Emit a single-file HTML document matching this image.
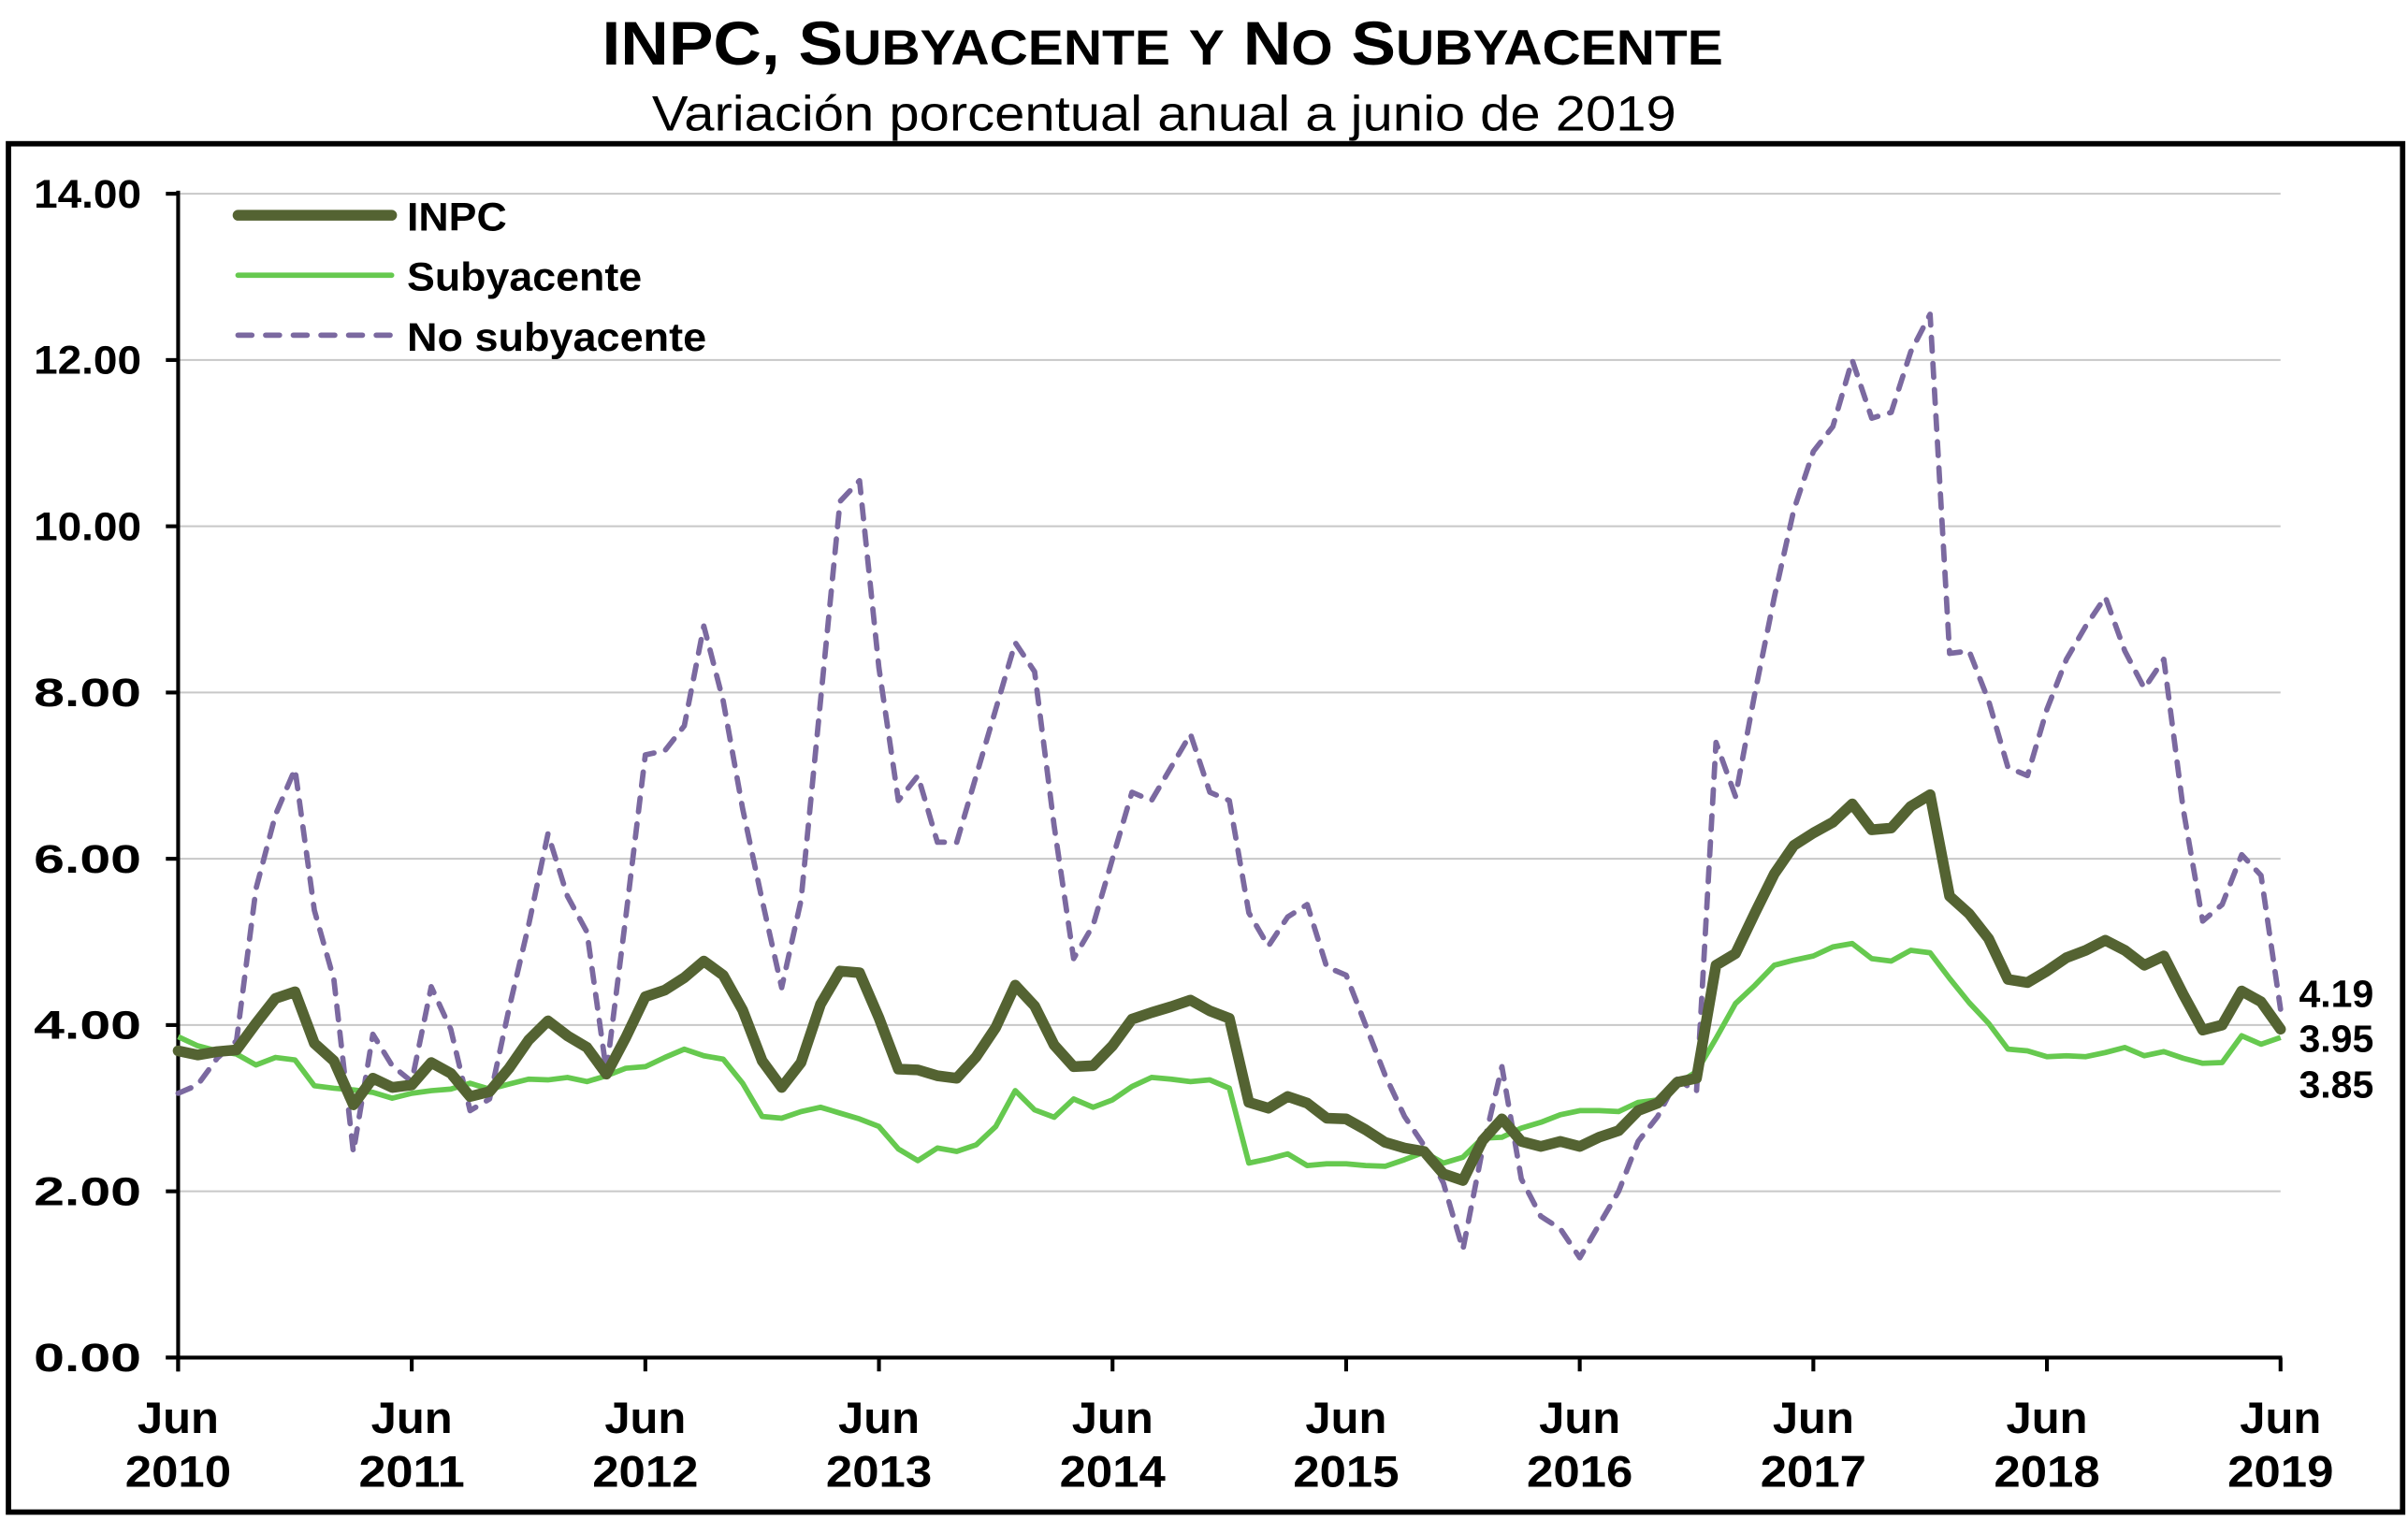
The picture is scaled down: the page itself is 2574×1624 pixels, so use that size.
<!DOCTYPE html>
<html><head><meta charset="utf-8"><style>
html,body{margin:0;padding:0;background:#fff;}
svg{display:block;}
text{font-family:"Liberation Sans",Arial,sans-serif;}
</style></head><body>
<svg id="c" width="2574" height="1624" viewBox="0 0 1568 988" preserveAspectRatio="none" xmlns="http://www.w3.org/2000/svg">
<text x="757" y="42" text-anchor="middle" font-size="40" font-weight="bold" textLength="730" lengthAdjust="spacingAndGlyphs">INPC, S<tspan font-size="32">UBYACENTE</tspan> <tspan font-size="32">Y</tspan> N<tspan font-size="32">O</tspan> S<tspan font-size="32">UBYACENTE</tspan></text>
<text x="758" y="85" text-anchor="middle" font-size="32" textLength="667" lengthAdjust="spacingAndGlyphs">Variación porcentual anual a junio de 2019</text>
<rect x="5.5" y="93.5" width="1559" height="890" fill="none" stroke="#000" stroke-width="3.5"/>
<g id="grid"></g>
<g id="series"></g>
<g font-weight="bold" font-size="26">
<text x="265" y="150" textLength="65" lengthAdjust="spacingAndGlyphs">INPC</text>
<text x="265" y="189" textLength="153" lengthAdjust="spacingAndGlyphs">Subyacente</text>
<text x="265" y="228" textLength="195" lengthAdjust="spacingAndGlyphs">No subyacente</text>
</g>
<g font-weight="bold" font-size="25">
<text x="1497" y="655">4.19</text>
<text x="1497" y="684">3.95</text>
<text x="1497" y="714">3.85</text>
</g>
<line x1="155" y1="140" x2="255" y2="140" stroke="#546332" stroke-width="7" stroke-linecap="round"/>
<line x1="155" y1="179" x2="255" y2="179" stroke="#66c94f" stroke-width="3.5" stroke-linecap="round"/>
<line x1="155" y1="218" x2="255" y2="218" stroke="#7b69a0" stroke-width="3.5" stroke-dasharray="9,9" stroke-linecap="round"/>
</svg>
<script>
var X0=116,DX=12.676,Y0=883,DY=54.07;
function px(m){return X0+DX*m;} function py(v){return Y0-DY*v;}
var NS="http://www.w3.org/2000/svg";
function el(p,t,a){var e=document.createElementNS(NS,t);for(var k in a)e.setAttribute(k,a[k]);p.appendChild(e);return e;}
var g=document.getElementById('grid'),svg=document.getElementById('c');
for(var v=0;v<=14;v+=2){
 if(v>0)el(g,'line',{x1:X0,x2:1485,y1:py(v),y2:py(v),stroke:'#c8c8c8','stroke-width':1.2});
 el(g,'line',{x1:X0-8,x2:X0,y1:py(v),y2:py(v),stroke:'#000','stroke-width':2.5});
 var t=el(svg,'text',{x:92,y:py(v)+9,'text-anchor':'end','font-size':26,'font-weight':'bold',textLength:70,lengthAdjust:'spacingAndGlyphs'});t.textContent=v.toFixed(2);
}
el(g,'line',{x1:X0,x2:X0,y1:py(14)-2,y2:Y0+9,stroke:'#000','stroke-width':2.5});
el(g,'line',{x1:X0-8,x2:1486,y1:Y0,y2:Y0,stroke:'#000','stroke-width':2.5});
for(var i=0;i<=9;i++){var x=px(12*i);
 el(g,'line',{x1:x,x2:x,y1:Y0,y2:Y0+9,stroke:'#000','stroke-width':2.5});
 var a=el(svg,'text',{x:x,y:932,'text-anchor':'middle','font-size':29,'font-weight':'bold',textLength:53,lengthAdjust:'spacingAndGlyphs'});a.textContent='Jun';
 var b=el(svg,'text',{x:x,y:967,'text-anchor':'middle','font-size':29,'font-weight':'bold',textLength:69,lengthAdjust:'spacingAndGlyphs'});b.textContent=String(2010+i);
}
var inpc=[3.69,3.64,3.68,3.70,4.02,4.32,4.40,
3.78,3.57,3.04,3.36,3.25,3.28,3.55,3.42,3.14,3.20,3.48,3.82,
4.05,3.87,3.73,3.41,3.85,4.34,4.42,4.57,4.77,4.60,4.18,3.57,
3.25,3.55,4.25,4.65,4.63,4.09,3.47,3.46,3.39,3.36,3.62,3.97,
4.48,4.23,3.76,3.50,3.51,3.75,4.07,4.15,4.22,4.30,4.17,4.08,
3.07,3.00,3.14,3.06,2.88,2.87,2.74,2.59,2.52,2.48,2.21,2.13,
2.61,2.87,2.60,2.54,2.60,2.54,2.65,2.73,2.97,3.06,3.31,3.36,
4.72,4.86,5.35,5.82,6.16,6.31,6.44,6.66,6.35,6.37,6.63,6.77,
5.55,5.34,5.04,4.55,4.51,4.65,4.81,4.90,5.02,4.90,4.72,4.83,
4.37,3.94,4.00,4.41,4.28,3.95];
var sub=[3.86,3.75,3.69,3.65,3.52,3.61,3.58,
3.27,3.24,3.22,3.19,3.12,3.18,3.21,3.23,3.30,3.23,3.29,3.35,
3.34,3.37,3.32,3.39,3.48,3.50,3.61,3.71,3.63,3.59,3.30,2.90,
2.88,2.96,3.01,2.94,2.87,2.78,2.51,2.37,2.52,2.48,2.56,2.78,
3.21,2.98,2.89,3.11,3.01,3.10,3.26,3.37,3.35,3.32,3.34,3.24,
2.34,2.39,2.45,2.31,2.33,2.33,2.31,2.30,2.38,2.47,2.34,2.41,
2.64,2.65,2.76,2.83,2.92,2.97,2.97,2.96,3.07,3.10,3.29,3.44,
3.84,4.26,4.48,4.72,4.78,4.83,4.94,4.98,4.80,4.77,4.90,4.87,
4.56,4.27,4.02,3.71,3.69,3.62,3.63,3.62,3.67,3.73,3.63,3.68,
3.60,3.54,3.55,3.87,3.77,3.85];
var ns=[3.18,3.28,3.60,3.81,5.64,6.53,7.08,
5.38,4.55,2.47,3.89,3.51,3.32,4.46,3.95,2.97,3.11,4.2,5.2,
6.3,5.55,5.12,3.44,5.3,7.25,7.3,7.6,8.8,7.9,6.6,5.5,
4.45,5.5,7.9,10.3,10.55,8.3,6.7,7.0,6.2,6.2,7.0,7.8,
8.6,8.25,6.4,4.8,5.2,6.0,6.8,6.7,7.1,7.5,6.8,6.7,
5.35,4.95,5.3,5.45,4.7,4.6,4.0,3.4,2.9,2.55,2.1,1.3,
2.5,3.5,2.15,1.7,1.55,1.2,1.6,2.0,2.6,2.9,3.35,3.2,
7.4,6.75,8.0,9.15,10.2,10.9,11.2,12.0,11.3,11.37,12.1,12.55,
8.47,8.5,7.9,7.1,7.0,7.8,8.4,8.8,9.15,8.5,8.05,8.4,
6.6,5.25,5.45,6.05,5.8,4.19];
function pts(a){return a.map(function(v,i){return px(i).toFixed(1)+','+py(v).toFixed(1);}).join(' ');}
var s=document.getElementById('series');
el(s,'polyline',{points:pts(ns),fill:'none',stroke:'#7b69a0','stroke-width':3.5,'stroke-dasharray':'9,8','stroke-linecap':'round','stroke-linejoin':'round'});
el(s,'polyline',{points:pts(sub),fill:'none',stroke:'#66c94f','stroke-width':3.5,'stroke-linejoin':'round'});
el(s,'polyline',{points:pts(inpc),fill:'none',stroke:'#546332','stroke-width':7,'stroke-linejoin':'round','stroke-linecap':'round'});
</script>
</body></html>
